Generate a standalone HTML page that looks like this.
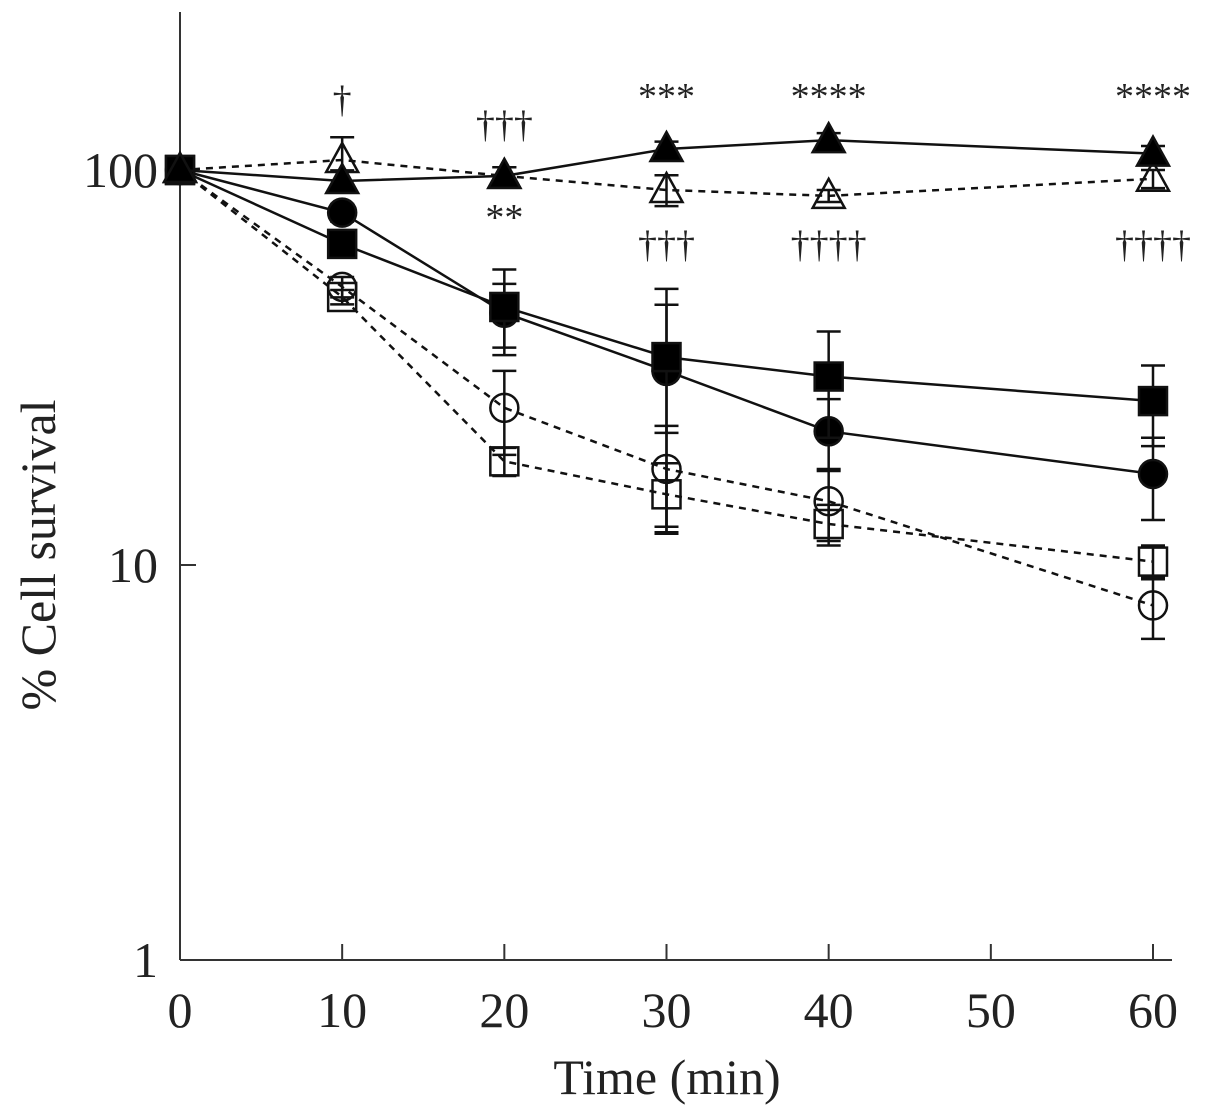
<!DOCTYPE html>
<html><head><meta charset="utf-8"><style>
html,body{margin:0;padding:0;background:#fff}
svg{display:block}
text{font-family:"Liberation Serif",serif;fill:#222}
</style></head><body>
<svg id="chart" width="1205" height="1115" viewBox="0 0 1205 1115" xmlns="http://www.w3.org/2000/svg"></svg>
<script>
const times=[0,10,20,30,40,60];
const xTicks=[0,10,20,30,40,50,60];
const yTicks=[1,10,100];
const filledTri=[100,93.8,96.6,113,119,110];
const filledTriErr=[0,6,5,5,5,5];
const openTri=[100,106,96.6,89,86,95];
const openTriErr=[0,15,5,8,3,5];
const filledSq=[100,65,45,33.6,30,26];
const filledSqErr=[0,5,11,12,9,6];
const filledCirc=[100,78,43.5,31,21.8,17];
const filledCircErr=[0,4,8,19,4.5,4];
const openCirc=[100,50.6,25,17.5,14.5,7.9];
const openCircErr=[0,3,6,5,3,1.4];
const openSq=[100,47.7,18.3,15.1,12.7,10.2];
const openSqErr=[0,2,1.5,3,1.5,1];
const annotations=[[10,"†",100],[20,"†††",125],[30,"***",97],[40,"****",97],[60,"****",97],[20,"**",218],[30,"†††",245],[40,"††††",245],[60,"††††",245]];
const NS="http://www.w3.org/2000/svg";
const svg=document.getElementById('chart');
const X=v=>180+v*(973/60);
const Y=v=>960-(Math.log10(v))*395;
function mk(t,a,p){const e=document.createElementNS(NS,t);for(const k in a)e.setAttribute(k,a[k]);(p||svg).appendChild(e);return e;}
let ax=mk('line',{x1:180,y1:12,x2:180,y2:960,stroke:'#333','stroke-width':2});


let bx=mk('line',{x1:180,y1:960,x2:1172,y2:960,stroke:'#333','stroke-width':2});


xTicks.forEach(t=>{
 mk('line',{x1:X(t),y1:960,x2:X(t),y2:944,stroke:'#333','stroke-width':2});
 const tx=mk('text',{x:X(t),y:1027,'font-size':50,'text-anchor':'middle'});tx.textContent=t;
 
 
});
yTicks.forEach(t=>{
 mk('line',{x1:180,y1:Y(t),x2:196,y2:Y(t),stroke:'#333','stroke-width':2});
 const tx=mk('text',{x:158,y:Y(t)+17,'font-size':50,'text-anchor':'end'});tx.textContent=t;
 
 
});
let xl=mk('text',{x:667,y:1094,'font-size':50,'text-anchor':'middle'});xl.textContent='Time (min)';


let yl=mk('text',{x:0,y:0,'font-size':50,'text-anchor':'middle',transform:'translate(55,555) rotate(-90)'});yl.textContent='% Cell survival';


function series(name,vals,errs,dash,shape,fill){
 const g=mk('g',{});
 
 
 mk('polyline',{points:times.map((t,i)=>X(t)+','+Y(vals[i])).join(' '),fill:'none',stroke:'#111','stroke-width':2.5,'stroke-dasharray':dash?'7,6':'none'},g);
 times.forEach((t,i)=>{
  const x=X(t),y=Y(vals[i]);
  if(errs[i]>0){
   const y1=Y(vals[i]+errs[i]),y2=Y(Math.max(vals[i]-errs[i],0.5));
   mk('line',{x1:x,y1:y1,x2:x,y2:y2,stroke:'#111','stroke-width':2.5},g);
   mk('line',{x1:x-12,y1:y1,x2:x+12,y2:y1,stroke:'#111','stroke-width':2.5},g);
   mk('line',{x1:x-12,y1:y2,x2:x+12,y2:y2,stroke:'#111','stroke-width':2.5},g);
  }
  const st={fill:fill?'#000':'none',stroke:'#111','stroke-width':2.5};
  let m;
  if(shape==='sq')m=mk('rect',Object.assign({x:x-14,y:y-14,width:28,height:28},st),g);
  else if(shape==='c')m=mk('circle',Object.assign({cx:x,cy:y,r:14},st),g);
  else m=mk('polygon',Object.assign({points:`${x},${y-17} ${x-16},${y+12} ${x+16},${y+12}`},st),g);
  
  
 });
}
series('open-square-series',openSq,openSqErr,true,'sq',false);
series('open-circle-series',openCirc,openCircErr,true,'c',false);
series('open-triangle-series',openTri,openTriErr,true,'t',false);
series('filled-circle-series',filledCirc,filledCircErr,false,'c',true);
series('filled-square-series',filledSq,filledSqErr,false,'sq',true);
series('filled-triangle-series',filledTri,filledTriErr,false,'t',true);
annotations.forEach(a=>{
 const t=mk('text',{x:X(a[0]),y:a[2]+12,'font-size':38,'text-anchor':'middle'});t.textContent=a[1];
 
 
});
</script>
</body></html>
